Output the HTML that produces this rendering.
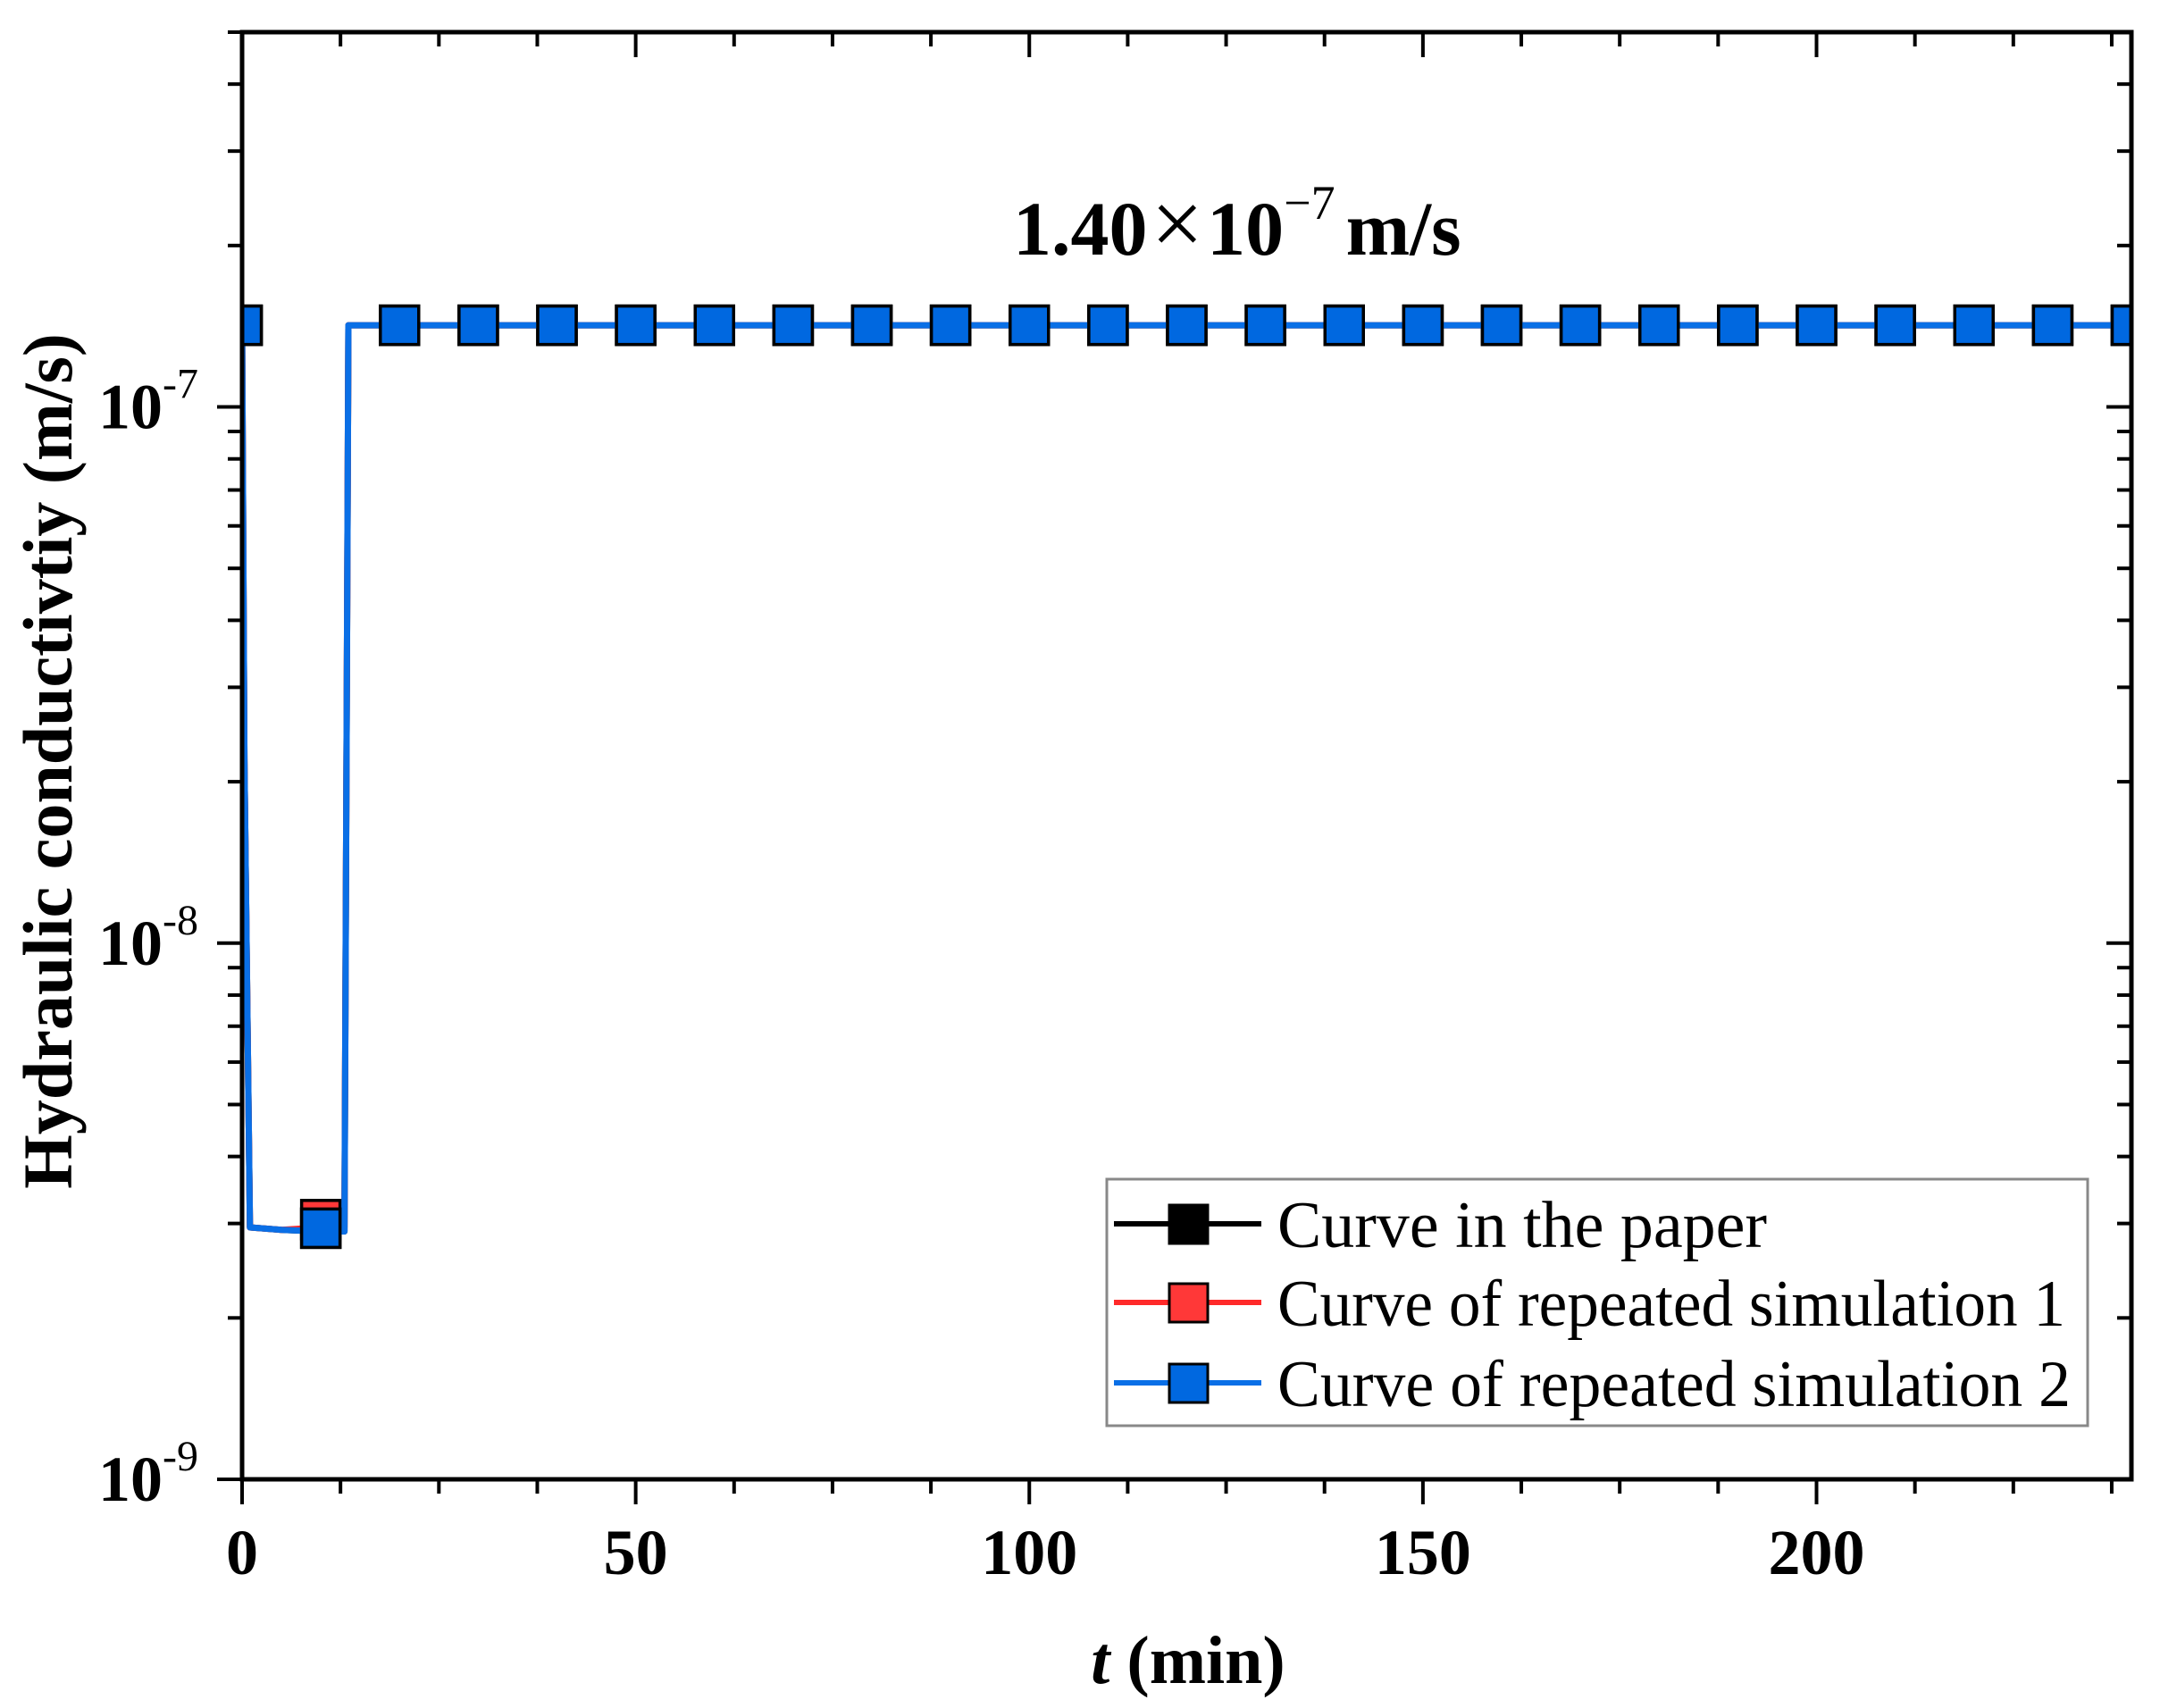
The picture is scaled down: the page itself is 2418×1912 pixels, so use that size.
<!DOCTYPE html>
<html><head><meta charset="utf-8"><style>
html,body{margin:0;padding:0;background:#fff;}
svg{display:block;}
text{font-family:"Liberation Serif",serif;}
</style></head><body>
<svg id="chart" width="2418" height="1912" viewBox="0 0 2418 1912" xmlns="http://www.w3.org/2000/svg">
<defs><clipPath id="plotclip"><rect x="271" y="36" width="2115" height="1620"/></clipPath></defs>
<rect x="271" y="36" width="2115" height="1620" fill="#fff"/>
<g id="series" clip-path="url(#plotclip)"></g>
<g id="axes"></g>
<text x="1134" y="285" font-size="86" font-weight="bold">1.40<tspan font-weight="normal" font-size="104" dx="4">×</tspan><tspan dx="4">10</tspan><tspan font-size="54" dy="-40" font-weight="normal">−7</tspan><tspan dy="40" dx="12">m/s</tspan></text>
<text x="1330" y="1884" font-size="76" font-weight="bold" text-anchor="middle"><tspan font-style="italic">t</tspan> (min)</text>
<text transform="translate(80,852) rotate(-90)" font-size="78" font-weight="bold" text-anchor="middle">Hydraulic conductivtiy (m/s)</text>
<g>
<rect x="1239" y="1320" width="1098" height="276" fill="#fff" stroke="#888" stroke-width="3"/>
<g>
<line x1="1247" y1="1370" x2="1412" y2="1370" stroke="#000" stroke-width="6"/>
<rect x="1309" y="1349" width="43" height="43" fill="#000" stroke="#000" stroke-width="3"/>
<text x="1430" y="1396" font-size="74" textLength="548" lengthAdjust="spacingAndGlyphs">Curve in the paper</text></g>
<g>
<line x1="1247" y1="1458" x2="1412" y2="1458" stroke="#ff2a2a" stroke-width="6"/>
<rect x="1309" y="1437" width="43" height="43" fill="#ff3838" stroke="#000" stroke-width="3"/>
<text x="1430" y="1484" font-size="74" textLength="882" lengthAdjust="spacingAndGlyphs">Curve of repeated simulation 1</text></g>
<g>
<line x1="1247" y1="1548" x2="1412" y2="1548" stroke="#0a6fe6" stroke-width="6"/>
<rect x="1309" y="1527" width="43" height="43" fill="#0068e0" stroke="#000" stroke-width="3"/>
<text x="1430" y="1574" font-size="74" textLength="888" lengthAdjust="spacingAndGlyphs">Curve of repeated simulation 2</text></g>
</g>
</svg>
<script>
const lineTime = [0, 0.3, 1, 5, 10, 13, 13.5, 240];
const paperLine = [1.42e-7, 2.2e-8, 2.95e-9, 2.92e-9, 2.9e-9, 2.9e-9, 1.42e-7, 1.42e-7];
const sim1Line = [1.42e-7, 2.2e-8, 2.95e-9, 2.92e-9, 2.95e-9, 2.95e-9, 1.42e-7, 1.42e-7];
const sim2Line = [1.42e-7, 2.2e-8, 2.95e-9, 2.92e-9, 2.9e-9, 2.9e-9, 1.42e-7, 1.42e-7];
const markerTime = [0,10,20,30,40,50,60,70,80,90,100,110,120,130,140,150,160,170,180,190,200,210,220,230,240];
const paperMarkers = [1.42e-7,2.94e-9,1.42e-7,1.42e-7,1.42e-7,1.42e-7,1.42e-7,1.42e-7,1.42e-7,1.42e-7,1.42e-7,1.42e-7,1.42e-7,1.42e-7,1.42e-7,1.42e-7,1.42e-7,1.42e-7,1.42e-7,1.42e-7,1.42e-7,1.42e-7,1.42e-7,1.42e-7,1.42e-7];
const sim1Markers = [1.42e-7,3.05e-9,1.42e-7,1.42e-7,1.42e-7,1.42e-7,1.42e-7,1.42e-7,1.42e-7,1.42e-7,1.42e-7,1.42e-7,1.42e-7,1.42e-7,1.42e-7,1.42e-7,1.42e-7,1.42e-7,1.42e-7,1.42e-7,1.42e-7,1.42e-7,1.42e-7,1.42e-7,1.42e-7];
const sim2Markers = [1.42e-7,2.94e-9,1.42e-7,1.42e-7,1.42e-7,1.42e-7,1.42e-7,1.42e-7,1.42e-7,1.42e-7,1.42e-7,1.42e-7,1.42e-7,1.42e-7,1.42e-7,1.42e-7,1.42e-7,1.42e-7,1.42e-7,1.42e-7,1.42e-7,1.42e-7,1.42e-7,1.42e-7,1.42e-7];
const xTickLabels = ["0","50","100","150","200"];
const xTickValues = [0,50,100,150,200];
const yTickExps = [-9,-8,-7];

const NS = "http://www.w3.org/2000/svg";
const L = 271, R = 2386, T = 36, B = 1656;
const XMIN = 0, XMAX = 240, LMIN = -9, LMAX = Math.log10(5e-7);
function xs(t){ return L + (t - XMIN) / (XMAX - XMIN) * (R - L); }
function ys(v){ return B - (Math.log10(v) - LMIN) / (LMAX - LMIN) * (B - T); }
function mk(tag, attrs, parent){
  const e = document.createElementNS(NS, tag);
  for (const k in attrs) e.setAttribute(k, attrs[k]);
  parent.appendChild(e);
  return e;
}
const sg = document.getElementById('series');
const ag = document.getElementById('axes');

function drawSeries(name, times, vals, mt, mv, stroke, fill){
  const pts = times.map((t,i) => xs(t).toFixed(1) + ',' + ys(vals[i]).toFixed(1)).join(' ');
  const pl = mk('polyline', {points: pts, fill: 'none', stroke: stroke, 'stroke-width': 7, 'stroke-linejoin': 'round'}, sg);
  
  
  mt.forEach((t,i) => {
    const r = mk('rect', {x: xs(t) - 21.5, y: ys(mv[i]) - 21.5, width: 43, height: 43, fill: fill, stroke: '#000', 'stroke-width': 3.5}, sg);
    
    
  });
}
drawSeries('paper', lineTime, paperLine, markerTime, paperMarkers, '#000', '#000');
drawSeries('sim1', lineTime, sim1Line, markerTime, sim1Markers, '#ff2a2a', '#ff3838');
drawSeries('sim2', lineTime, sim2Line, markerTime, sim2Markers, '#0a6fe6', '#0068e0');

const fr = mk('rect', {x: L, y: T, width: R - L, height: B - T, fill: 'none', stroke: '#000', 'stroke-width': 5}, ag);



for (let t = 0; t <= XMAX + 0.01; t += 12.5) {
  const major = Math.abs(t % 50) < 0.01;
  const x = xs(t);
  const len = major ? 28 : 16;
  const a = mk('line', {x1: x, y1: B, x2: x, y2: B + len, stroke: '#000', 'stroke-width': 4}, ag);
  
  
  const b = mk('line', {x1: x, y1: T, x2: x, y2: T + len, stroke: '#000', 'stroke-width': 4}, ag);
  
  
}
xTickValues.forEach((v,i) => {
  const tx = mk('text', {x: xs(v), y: 1762, 'font-size': 72, 'font-weight': 'bold', 'text-anchor': 'middle'}, ag);
  tx.textContent = xTickLabels[i];
  
  
});

for (let e = -9; e <= -7; e++) {
  for (let m = 1; m <= 9; m++) {
    const v = m * Math.pow(10, e);
    if (Math.log10(v) > LMAX + 1e-6) continue;
    const y = ys(v);
    const major = m === 1;
    const len = major ? 28 : 16;
    const a = mk('line', {x1: L - len, y1: y, x2: L, y2: y, stroke: '#000', 'stroke-width': 4}, ag);
    
    
    const b = mk('line', {x1: R - len, y1: y, x2: R, y2: y, stroke: '#000', 'stroke-width': 4}, ag);
    
    
  }
}
yTickExps.forEach(e => {
  const y = ys(Math.pow(10, e));
  const tx = mk('text', {x: 110, y: y + 24, 'font-size': 72, 'font-weight': 'bold'}, ag);
  
  
  const a = document.createElementNS(NS, 'tspan'); a.textContent = '10'; tx.appendChild(a);
  const s = document.createElementNS(NS, 'tspan'); s.setAttribute('dy', -34); s.setAttribute('font-size', 48); s.setAttribute('font-weight', 'normal'); s.textContent = '-' + Math.abs(e); tx.appendChild(s);
});
</script>
</body></html>
